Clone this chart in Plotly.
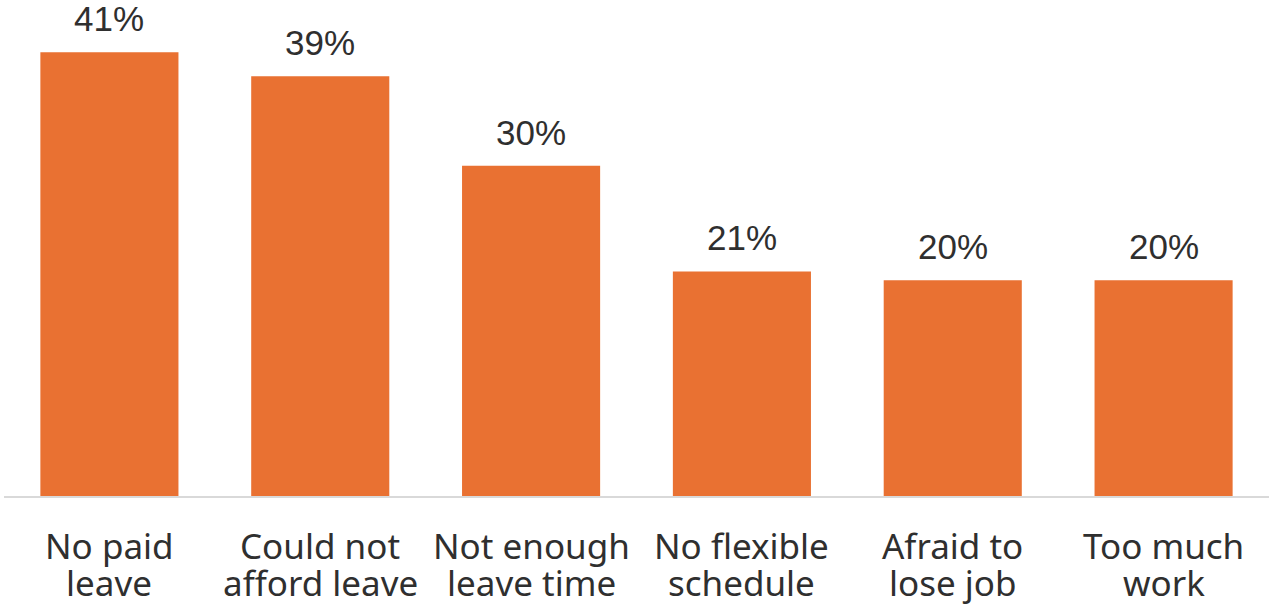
import plotly.graph_objects as go

categories = ["No paid<br>leave", "Could not<br>afford leave", "Not enough<br>leave time",
              "No flexible<br>schedule", "Afraid to<br>lose job", "Too much<br>work"]
values = [40.7, 38.5, 30.3, 20.6, 19.8, 19.8]
value_labels = ["41%", "39%", "30%", "21%", "20%", "20%"]

BAR_COLOR = "#E97132"
TEXT_COLOR = "#2f2f2f"

fig = go.Figure(go.Bar(x=categories, y=values, marker=dict(color=BAR_COLOR, line=dict(width=0)),
                       hoverinfo="skip"))

annotations = []
for cat, v, lab in zip(categories, values, value_labels):
    annotations.append(dict(x=cat, y=v, xref="x", yref="y", text=lab, showarrow=False,
                            yanchor="bottom", yshift=12,
                            font=dict(family="Liberation Sans", size=35, color=TEXT_COLOR)))
    for i, line in enumerate(cat.split("<br>")):
        annotations.append(dict(x=cat, y=0, xref="x", yref="paper", text=line, showarrow=False,
                                yanchor="top", yshift=-24 - 37 * i,
                                font=dict(family="Noto Sans", size=35, color=TEXT_COLOR)))

fig.update_layout(
    width=1269, height=609,
    margin=dict(l=4, r=0, t=0, b=113),
    paper_bgcolor="white", plot_bgcolor="white",
    bargap=0.345,
    showlegend=False,
    annotations=annotations,
    xaxis=dict(showticklabels=False, showgrid=False, zeroline=False, showline=True,
               linecolor="#D9D9D9", linewidth=1.5, ticks=""),
    yaxis=dict(range=[0, 45.5], visible=False, showgrid=False, zeroline=False),
)

fig.write_html("out.html", config={"displayModeBar": False},
               post_script="document.body.style.margin='0px';document.body.style.overflow='hidden';")
